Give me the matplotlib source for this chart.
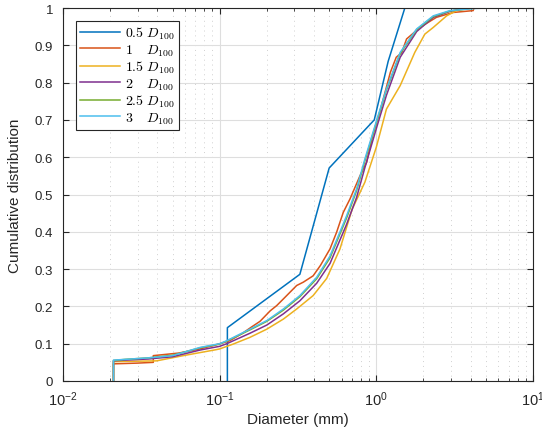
import matplotlib
matplotlib.use('Agg')
import matplotlib.pyplot as plt
from matplotlib.ticker import LogLocator, MultipleLocator, NullFormatter

plt.rcParams['font.family'] = ['Liberation Sans', 'DejaVu Sans']
plt.rcParams['mathtext.fontset'] = 'cm'

# 0.5 D100
x_05 = [0.112, 0.112, 0.325, 0.50, 0.97, 1.19, 1.52]
y_05 = [0, 0.143, 0.286, 0.571, 0.70, 0.857, 1.0]

# 1 D100
x_1 = [0.021, 0.021, 0.030, 0.0377, 0.0377, 0.055, 0.0748, 0.091, 0.116, 0.14, 0.16, 0.181,
       0.21, 0.231, 0.255, 0.31, 0.342, 0.395, 0.44, 0.506, 0.558, 0.615, 0.679, 0.786,
       0.867, 0.95, 1.05, 1.23, 1.34, 1.45, 1.56, 1.9, 2.42, 3.09, 4.15, 4.2]
y_1 = [0, 0.046, 0.048, 0.050, 0.068, 0.075, 0.086, 0.095, 0.108, 0.128, 0.145, 0.16,
       0.188, 0.202, 0.22, 0.256, 0.265, 0.282, 0.31, 0.354, 0.399, 0.452, 0.488, 0.550,
       0.586, 0.66, 0.72, 0.828, 0.868, 0.88, 0.917, 0.948, 0.975, 0.988, 0.993, 1.0]

# 1.5 D100
x_15 = [0.021, 0.021, 0.0396, 0.0586, 0.095, 0.1, 0.122, 0.156, 0.2, 0.255, 0.31, 0.395,
        0.482, 0.586, 0.70, 0.845, 1.0, 1.16, 1.42, 1.76, 2.04, 2.31, 2.81, 3.25, 4.15]
y_15 = [0, 0.052, 0.054, 0.068, 0.084, 0.086, 0.099, 0.117, 0.139, 0.166, 0.193, 0.229,
        0.275, 0.354, 0.46, 0.533, 0.627, 0.729, 0.792, 0.881, 0.930, 0.948, 0.979, 0.993, 1.0]

# 2 D100
x_2 = [0.021, 0.021, 0.025, 0.035, 0.05, 0.075, 0.1, 0.111, 0.156, 0.2, 0.255, 0.325,
       0.416, 0.506, 0.646, 0.748, 0.845, 1.01, 1.16, 1.42, 1.81, 2.31, 2.95, 3.7]
y_2 = [0, 0.054, 0.056, 0.059, 0.065, 0.083, 0.093, 0.100, 0.128, 0.150, 0.180, 0.215,
       0.262, 0.315, 0.420, 0.492, 0.572, 0.683, 0.766, 0.868, 0.937, 0.975, 0.991, 1.0]

# 2.5 D100
x_25 = [0.021, 0.021, 0.025, 0.035, 0.05, 0.075, 0.1, 0.111, 0.156, 0.2, 0.255, 0.325,
        0.416, 0.506, 0.646, 0.748, 0.845, 1.01, 1.16, 1.42, 1.81, 2.31, 2.95, 4.0, 4.6]
y_25 = [0, 0.055, 0.058, 0.062, 0.069, 0.089, 0.099, 0.107, 0.137, 0.160, 0.190, 0.226,
        0.274, 0.33, 0.437, 0.51, 0.59, 0.698, 0.78, 0.878, 0.942, 0.977, 0.992, 0.999, 1.0]

# 3 D100
x_3 = [0.021, 0.021, 0.025, 0.035, 0.05, 0.075, 0.1, 0.111, 0.156, 0.2, 0.255, 0.325,
       0.416, 0.506, 0.646, 0.748, 0.845, 1.01, 1.16, 1.42, 1.81, 2.31, 2.95, 4.36, 5.45]
y_3 = [0, 0.056, 0.058, 0.062, 0.068, 0.090, 0.100, 0.108, 0.139, 0.162, 0.193, 0.229,
       0.278, 0.335, 0.443, 0.515, 0.595, 0.702, 0.783, 0.881, 0.944, 0.979, 0.993, 0.999, 1.0]

series = [
    (x_05, y_05, r'$0.5\ D_{100}$', '#0072BD'),
    (x_1, y_1, r'$1\quad\, D_{100}$', '#D95319'),
    (x_15, y_15, r'$1.5\ D_{100}$', '#EDB120'),
    (x_2, y_2, r'$2\quad\, D_{100}$', '#7E2F8E'),
    (x_25, y_25, r'$2.5\ D_{100}$', '#77AC30'),
    (x_3, y_3, r'$3\quad\, D_{100}$', '#4DBEEE'),
]

fig = plt.figure(figsize=(5.42, 4.35), dpi=100)
ax = fig.add_axes([63 / 542, 53 / 435, 470 / 542, 373 / 435])

for xs, ys, lab, c in series:
    ax.plot(xs, ys, color=c, lw=1.1, label=lab)

ax.set_xscale('log')
ax.set_xlim(1e-2, 1e1)
ax.set_ylim(0, 1)
ax.set_yticks([0, 0.1, 0.2, 0.3, 0.4, 0.5, 0.6, 0.7, 0.8, 0.9, 1.0])
ax.set_yticklabels(['0', '0.1', '0.2', '0.3', '0.4', '0.5', '0.6', '0.7', '0.8', '0.9', '1'])
ax.xaxis.set_major_locator(LogLocator(base=10, numticks=10))
ax.xaxis.set_minor_locator(LogLocator(base=10, subs=range(2, 10), numticks=20))
ax.xaxis.set_minor_formatter(NullFormatter())

ax.grid(True, which='major', color='#dedede', lw=0.8, ls='-')
ax.grid(True, which='minor', axis='x', color='#d0d0d0', lw=0.7, ls=(0, (1, 4)))
ax.set_axisbelow(True)

ax.tick_params(which='both', direction='in', top=True, right=True, labelsize=9.5,
               color='#262626', labelcolor='#262626', pad=7)
ax.tick_params(axis='x', labelsize=10.5, pad=6)
ax.tick_params(which='major', length=4)
ax.tick_params(which='minor', length=2)
for s in ax.spines.values():
    s.set_color('#262626')
    s.set_linewidth(0.8)

ax.set_xlabel('Diameter (mm)', fontsize=11, color='#262626', labelpad=3)
ax.set_ylabel('Cumulative distribution', fontsize=11, color='#262626', labelpad=9)

leg = ax.legend(loc='upper left', bbox_to_anchor=(0.027, 0.966), borderaxespad=0,
                fontsize=10, fancybox=False, edgecolor='#262626', framealpha=1,
                handlelength=2.9, labelspacing=0.08, handletextpad=0.35, borderpad=0.3)
leg.get_frame().set_linewidth(0.8)

fig.savefig('out.png', dpi=100)
